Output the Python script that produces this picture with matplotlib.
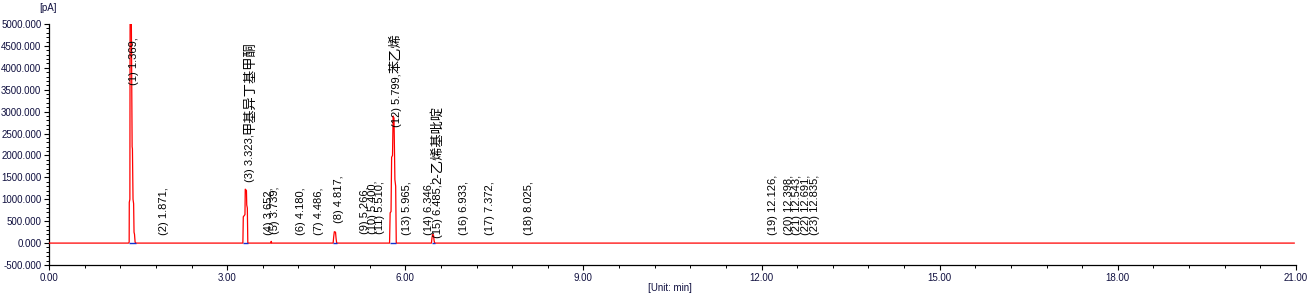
import matplotlib
matplotlib.use("Agg")
import matplotlib.pyplot as plt
from matplotlib.ticker import MultipleLocator, FormatStrFormatter

# chromatogram trace (min, pA)
trace_t = [0.0, 1.340, 1.350, 1.352, 1.362, 1.366, 1.385, 1.400, 1.405, 1.415, 1.425, 1.432, 1.440, 1.450, 1.460,
           3.265, 3.272, 3.300, 3.305, 3.325, 3.330, 3.340, 3.348,
           3.735, 3.742, 3.750,
           4.785, 4.795, 4.805, 4.825, 4.835, 4.845,
           5.735, 5.745, 5.760, 5.770, 5.785, 5.795, 5.810, 5.825, 5.838, 5.848,
           6.440, 6.450, 6.460, 6.475, 6.485, 6.495, 20.97]
trace_v = [0, 0, 20, 930, 1000, 5400, 5400, 2200, 2150, 1000, 900, 250, 200, 20, 0,
           0, 600, 650, 1230, 1200, 870, 800, 0,
           0, 40, 0,
           0, 150, 260, 250, 100, 0,
           0, 690, 720, 1960, 2000, 2900, 2850, 1450, 1300, 0,
           0, 120, 200, 180, 60, 0, 0]

# integration baselines
base_start = [1.350, 3.268, 4.788, 5.738, 6.442]
base_end = [1.460, 3.345, 4.842, 5.846, 6.492]

# peak labels
peak_no = list(range(1, 24))
peak_rt = [1.369, 1.871, 3.323, 3.652, 3.739, 4.180, 4.486, 4.817, 5.266, 5.400, 5.510, 5.799,
           5.965, 6.346, 6.485, 6.933, 7.372, 8.025, 12.126, 12.398, 12.543, 12.691, 12.835]
peak_name = {3: "甲基异丁基甲酮", 12: "苯乙烯", 15: "2-乙烯基吡啶"}
label_y = [3600, 180, 1400, 180, 200, 180, 180, 460, 200, 200, 200, 2650,
           180, 180, 120, 180, 180, 180, 180, 180, 180, 180, 180]

fonts = ["Liberation Sans", "Noto Sans CJK SC", "DejaVu Sans"]
plt.rcParams["font.family"] = fonts

fig = plt.figure(figsize=(13.16, 3.0), dpi=100)
ax = fig.add_axes([49 / 1316, 35 / 300, (1296 - 49) / 1316, (265 - 24) / 300])

ax.plot(trace_t, trace_v, color="#ff0000", linewidth=0.9, zorder=3)
ax.hlines([0] * len(base_start), base_start, base_end, color="#1030d0", linewidth=1.0, zorder=4)

for n, t, y in zip(peak_no, peak_rt, label_y):
    txt = ax.text(t + 0.06, y, "(%d) %.3f," % (n, t), rotation=90, ha="center", va="bottom",
                  fontsize=8, family=fonts, color="black", zorder=5)
    if n in peak_name:
        # the compound names are drawn a bit larger, right after the number
        ax.annotate(peak_name[n], xy=(0.5, 1.0), xycoords=txt, rotation=90,
                    ha="center", va="bottom", fontsize=9.5, family=fonts,
                    color="black", zorder=5)

ax.set_xlim(0, 21)
ax.set_ylim(-500, 5000)
ax.xaxis.set_major_locator(MultipleLocator(3))
ax.xaxis.set_minor_locator(MultipleLocator(0.6))
ax.yaxis.set_major_locator(MultipleLocator(500))
ax.yaxis.set_minor_locator(MultipleLocator(100))
ax.xaxis.set_major_formatter(FormatStrFormatter("%.2f"))
ax.yaxis.set_major_formatter(FormatStrFormatter("%.3f"))

for s in ["top", "right"]:
    ax.spines[s].set_visible(False)
for s in ["left", "bottom"]:
    ax.spines[s].set_linewidth(0.9)

ax.tick_params(axis="both", which="major", direction="out", length=3.5, width=0.8,
               labelsize=7, labelcolor="#101040", pad=2)
ax.tick_params(axis="both", which="minor", direction="out", length=2, width=0.7)

fig.text(48.5 / 1316, 1 - 8 / 300, "[pA]", ha="center", va="center", fontsize=7, color="#101040")
fig.text(670 / 1316, 1 - 288 / 300, "[Unit: min]", ha="center", va="center", fontsize=7, color="#101040")

fig.savefig("out.png", dpi=100)
